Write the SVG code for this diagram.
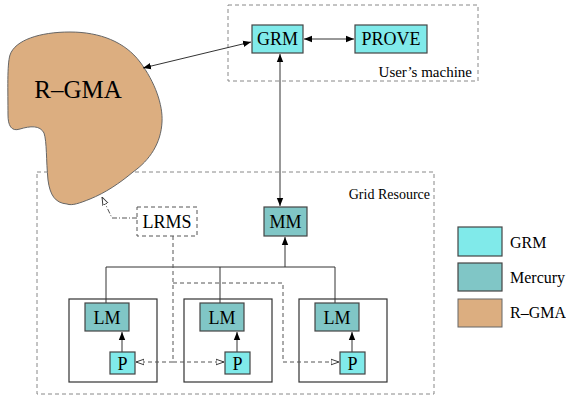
<svg xmlns="http://www.w3.org/2000/svg" width="566" height="396" viewBox="0 0 566 396">
<defs>
<marker id="ah" viewBox="0 0 10 10" refX="10" refY="5" markerWidth="8" markerHeight="8" markerUnits="userSpaceOnUse" orient="auto-start-reverse"><path d="M0,1 L10,5 L0,9 Z" fill="#000"/></marker>
<marker id="oh" viewBox="0 0 10 10" refX="10" refY="5" markerWidth="8" markerHeight="8" markerUnits="userSpaceOnUse" orient="auto"><path d="M0,1.5 L10,5 L0,8.5 Z" fill="#fff" stroke="#333" stroke-width="1.2"/></marker>
<style>
text{font-family:"Liberation Serif","Times New Roman",serif;fill:#000}
.grm{fill:#80EAEA;stroke:#444;stroke-width:1.2}
.mer{fill:#80C6C6;stroke:#444;stroke-width:1.2}
.rg{fill:#DCAE80;stroke:#666;stroke-width:1}
.grp{fill:none;stroke:#888;stroke-width:1;stroke-dasharray:4,3}
.cell{fill:none;stroke:#333;stroke-width:1.2}
.ln{fill:none;stroke:#333;stroke-width:1}
.ds{fill:none;stroke:#555;stroke-width:1;stroke-dasharray:4,3}
.lbl{font-size:18px;text-anchor:middle}
</style>
</defs>
<g id="users-machine"><rect class="grp" x="228" y="5" width="250" height="76"/><text x="472" y="77" font-size="15" text-anchor="end">User’s machine</text></g>
<g id="grid-resource"><rect class="grp" x="37" y="172" width="397" height="222"/><text x="430" y="199" font-size="14" text-anchor="end">Grid Resource</text></g>
<g id="rgma"><path class="rg" d="M10,55 C15,40 40,32 70,32 C100,32 125,42 140,62 C155,82 163,105 162,122 C161,143 150,160 133,172 C120,183 105,193 90,199 C80,203 72,206 67,204 C55,203 50,195 48,180 C46,160 47,142 44,133 C40,125 30,126 20,129 C11,132 8,125 8,115 C8,90 7,65 10,55 Z"/><text x="78" y="98" font-size="25" text-anchor="middle">R–GMA</text></g>
<g id="cells"><rect class="cell" x="69" y="299" width="88" height="83"/><rect class="cell" x="184" y="299" width="88" height="83"/><rect class="cell" x="299" y="299" width="88" height="83"/></g>
<g id="connectors">
<line class="ln" x1="143" y1="68" x2="251" y2="42" marker-start="url(#ah)" marker-end="url(#ah)"/>
<line class="ln" x1="304" y1="39" x2="354" y2="39" marker-start="url(#ah)" marker-end="url(#ah)"/>
<line class="ln" x1="280" y1="54" x2="280" y2="206" marker-start="url(#ah)" marker-end="url(#ah)"/>
<polyline class="ln" points="106,303 106,267 335,267 335,303"/>
<line class="ln" x1="220" y1="267" x2="220" y2="303"/>
<line class="ln" x1="285" y1="267" x2="285" y2="237" marker-end="url(#ah)"/>
<line class="ln" x1="122" y1="352" x2="122" y2="332" marker-end="url(#ah)"/>
<line class="ln" x1="237" y1="352" x2="237" y2="332" marker-end="url(#ah)"/>
<line class="ln" x1="352" y1="352" x2="352" y2="332" marker-end="url(#ah)"/>
<polyline fill="none" stroke="#555" stroke-width="1" stroke-dasharray="5,2,1,2" points="137,218 112,218 102,197" marker-end="url(#oh)"/>
<line class="ds" x1="173" y1="236" x2="173" y2="362"/>
<line class="ds" x1="173" y1="362" x2="136" y2="362" marker-end="url(#oh)"/>
<line class="ds" x1="173" y1="362" x2="224" y2="362" marker-end="url(#oh)"/>
<polyline class="ds" points="173,283 283,283 283,362 339,362" marker-end="url(#oh)"/>
</g>
<g id="GRM"><rect class="grm" x="252" y="25" width="51" height="28"/><text class="lbl" x="277.5" y="45">GRM</text></g>
<g id="PROVE"><rect class="grm" x="355" y="25" width="72" height="28"/><text class="lbl" x="391" y="45">PROVE</text></g>
<g id="MM"><rect class="mer" x="264" y="207" width="43" height="29"/><text class="lbl" x="285.5" y="228">MM</text></g>
<g id="LRMS"><rect class="ds" x="137" y="207" width="60" height="29"/><text class="lbl" x="167" y="228">LRMS</text></g>
<g id="LM1"><rect class="mer" x="85" y="303" width="44" height="28"/><text class="lbl" x="107" y="324">LM</text></g>
<g id="LM2"><rect class="mer" x="200" y="303" width="44" height="28"/><text class="lbl" x="222" y="324">LM</text></g>
<g id="LM3"><rect class="mer" x="315" y="303" width="44" height="28"/><text class="lbl" x="337" y="324">LM</text></g>
<g id="P1"><rect class="grm" x="110" y="352" width="25" height="22"/><text class="lbl" x="122.5" y="370">P</text></g>
<g id="P2"><rect class="grm" x="225" y="352" width="25" height="22"/><text class="lbl" x="237.5" y="370">P</text></g>
<g id="P3"><rect class="grm" x="340" y="352" width="25" height="22"/><text class="lbl" x="352.5" y="370">P</text></g>
<g id="legend">
<rect class="grm" x="458" y="227" width="44" height="29" stroke="#999"/><text x="510" y="248" font-size="16">GRM</text>
<rect class="mer" x="458" y="263" width="44" height="28" stroke="#999"/><text x="510" y="283" font-size="16">Mercury</text>
<rect class="rg" x="458" y="299" width="44" height="28" stroke="#999"/><text x="510" y="318" font-size="16">R–GMA</text>
</g>
</svg>
